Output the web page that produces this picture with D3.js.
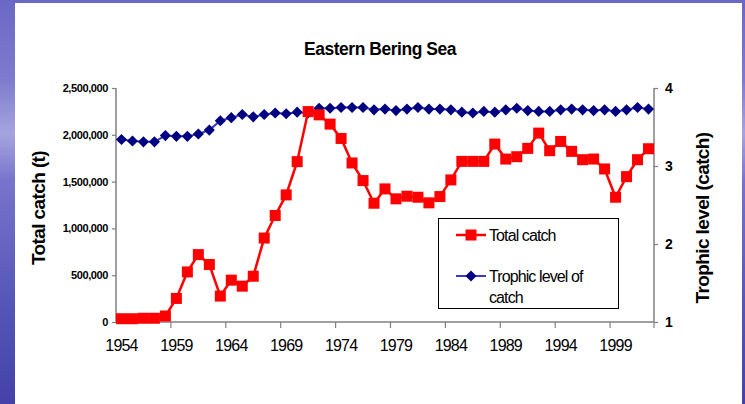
<!DOCTYPE html>
<html>
<head>
<meta charset="utf-8">
<script src="https://cdn.jsdelivr.net/npm/d3@7"></script>
<style>
  html, body { margin: 0; padding: 0; }
  body { width: 745px; height: 404px; overflow: hidden; }
  text { font-family: "Liberation Sans", Arial, sans-serif; }
</style>
</head>
<body>
<div id="chart"></div>
<script>
// data
var years = d3.range(1954, 2003);
var totalCatch = [
  35000, 35000, 40000, 40000, 64000, 252000, 535000, 720000, 614000, 277000,
  447000, 383000, 489000, 897000, 1138000, 1358000, 1713000, 2248000, 2213000, 2114000,
  1961000, 1699000, 1511000, 1269000, 1422000, 1316000, 1344000, 1333000, 1273000, 1340000,
  1518000, 1716000, 1716000, 1716000, 1901000, 1741000, 1766000, 1855000, 2018000, 1830000,
  1929000, 1823000, 1734000, 1741000, 1635000, 1333000, 1553000, 1734000, 1851000
];
var trophicLevel = [
  3.34, 3.32, 3.31, 3.31, 3.39, 3.38, 3.38, 3.41, 3.46, 3.58,
  3.62, 3.66, 3.63, 3.66, 3.68, 3.67, 3.69, 3.68, 3.74, 3.74,
  3.75, 3.75, 3.75, 3.72, 3.73, 3.71, 3.73, 3.75, 3.73, 3.73,
  3.72, 3.69, 3.68, 3.70, 3.69, 3.72, 3.74, 3.71, 3.70, 3.70,
  3.72, 3.73, 3.72, 3.71, 3.72, 3.70, 3.72, 3.75, 3.73
];
var xLabelYears = [1954, 1959, 1964, 1969, 1974, 1979, 1984, 1989, 1994, 1999];
var catchTicks = [0, 500000, 1000000, 1500000, 2000000, 2500000];
var trophicTicks = [1, 2, 3, 4];

var width = 745, height = 404;
var plotL = 116, plotR = 654, plotT = 88, plotB = 322;

var svg = d3.select("#chart").append("svg")
  .attr("width", width)
  .attr("height", height);

// slide background
var defs = svg.append("defs");
var grad = defs.append("linearGradient")
  .attr("id", "bg").attr("x1", 0).attr("y1", 0).attr("x2", 0).attr("y2", 1);
grad.append("stop").attr("offset", "0%").attr("stop-color", "#6a68c4");
grad.append("stop").attr("offset", "20%").attr("stop-color", "#7e7ccf");
grad.append("stop").attr("offset", "33%").attr("stop-color", "#a6a4de");
grad.append("stop").attr("offset", "45%").attr("stop-color", "#7674cb");
grad.append("stop").attr("offset", "75%").attr("stop-color", "#5656b8");
grad.append("stop").attr("offset", "100%").attr("stop-color", "#4442a8");
svg.append("rect").attr("width", width).attr("height", height).attr("fill", "url(#bg)");
svg.append("rect")
  .attr("x", 15).attr("y", 3)
  .attr("width", 742 - 15).attr("height", height - 3)
  .attr("fill", "#ffffff");

var x = d3.scaleBand().domain(years).range([plotL, plotR]).padding(0);
var yCatch = d3.scaleLinear().domain([0, 2500000]).range([plotB, plotT]);
var yTroph = d3.scaleLinear().domain([1, 4]).range([plotB, plotT]);

function cx(d, i) { return x(years[i]) + x.bandwidth() / 2; }

// title (the original font is a bit condensed)
svg.append("text")
  .attr("transform", "translate(380,55)scale(0.92,1)")
  .attr("text-anchor", "middle")
  .style("font-size", "19px").style("font-weight", "bold")
  .style("letter-spacing", "-0.5px")
  .text("Eastern Bering Sea");

// axes
var axisColor = "#808080";

var leftAxis = svg.append("g")
  .attr("transform", "translate(" + plotL + ",0)")
  .call(d3.axisLeft(yCatch).tickValues(catchTicks).tickFormat(d3.format(",")).tickSize(4).tickPadding(4));

var rightAxis = svg.append("g")
  .attr("transform", "translate(" + plotR + ",0)")
  .call(d3.axisRight(yTroph).tickValues(trophicTicks).tickFormat(d3.format("d")).tickSize(4).tickPadding(7));

var xAxis = svg.append("g")
  .attr("transform", "translate(0," + plotB + ")")
  .call(d3.axisBottom(x).tickValues(xLabelYears).tickSize(0).tickPadding(18));

[leftAxis, rightAxis, xAxis].forEach(function(g) {
  g.select(".domain").attr("stroke", axisColor).attr("stroke-width", 1.5);
  g.selectAll(".tick line").attr("stroke", axisColor).attr("stroke-width", 1.2);
  g.selectAll(".tick text").attr("fill", "#000");
});
leftAxis.select(".domain").attr("d", "M0," + plotT + "V" + plotB);
rightAxis.select(".domain").attr("d", "M0," + plotT + "V" + plotB);
leftAxis.selectAll(".tick text")
  .style("font-size", "11px").style("font-weight", "bold")
  .style("font-family", "'Liberation Sans', Arial, sans-serif")
  .style("letter-spacing", "-0.4px");
rightAxis.selectAll(".tick text")
  .style("font-size", "14px").style("font-weight", "bold")
  .style("font-family", "'Liberation Sans', Arial, sans-serif");
xAxis.selectAll(".tick text")
  .style("font-size", "16px")
  .style("font-family", "'Liberation Sans', Arial, sans-serif")
  .style("letter-spacing", "-0.8px");

// category separator ticks on the x axis, every 5 years
var sepYears = xLabelYears.slice(1).concat([2003]);
xAxis.selectAll(".sep")
  .data(sepYears)
  .enter().append("line")
  .attr("class", "sep")
  .attr("x1", function(d) { return d === 2003 ? plotR : x(d); })
  .attr("x2", function(d) { return d === 2003 ? plotR : x(d); })
  .attr("y1", 0).attr("y2", 6)
  .attr("stroke", axisColor).attr("stroke-width", 1.2);
xAxis.select(".domain").attr("d", "M" + plotL + ",0H" + plotR);

// axis titles
svg.append("text")
  .attr("transform", "translate(45,208)rotate(-90)")
  .attr("text-anchor", "middle")
  .style("font-size", "19px").style("font-weight", "bold")
  .style("letter-spacing", "-0.6px")
  .text("Total catch (t)");
svg.append("text")
  .attr("transform", "translate(709,218)rotate(-90)")
  .attr("text-anchor", "middle")
  .style("font-size", "19px").style("font-weight", "bold")
  .style("letter-spacing", "-0.6px")
  .text("Trophic level (catch)");

// trophic level series
var lineT = d3.line().x(cx).y(function(d) { return yTroph(d); });
svg.append("path")
  .datum(trophicLevel)
  .attr("d", lineT)
  .attr("fill", "none")
  .attr("stroke", "#3a3ac8")
  .attr("stroke-width", 2);
var diamond = d3.symbol().type(d3.symbolSquare).size(62);
svg.append("g").selectAll("path")
  .data(trophicLevel)
  .enter().append("path")
  .attr("d", diamond)
  .attr("transform", function(d, i) {
    return "translate(" + cx(d, i) + "," + yTroph(d) + ")rotate(45)";
  })
  .attr("fill", "#000080");

// total catch series
var lineC = d3.line().x(cx).y(function(d) { return yCatch(d); });
svg.append("path")
  .datum(totalCatch)
  .attr("d", lineC)
  .attr("fill", "none")
  .attr("stroke", "#ff0000")
  .attr("stroke-width", 2.5);
svg.append("g").selectAll("rect")
  .data(totalCatch)
  .enter().append("rect")
  .attr("x", function(d, i) { return cx(d, i) - 5.5; })
  .attr("y", function(d) { return yCatch(d) - 5.5; })
  .attr("width", 11).attr("height", 11)
  .attr("fill", "#ff0000");

// legend
var legend = svg.append("g");
legend.append("rect")
  .attr("x", 438.5).attr("y", 218.5)
  .attr("width", 180).attr("height", 90)
  .attr("fill", "#ffffff")
  .attr("stroke", "#000").attr("stroke-width", 1);
legend.append("line")
  .attr("x1", 456).attr("x2", 486).attr("y1", 235).attr("y2", 235)
  .attr("stroke", "#ff0000").attr("stroke-width", 2.5);
legend.append("rect")
  .attr("x", 465.5).attr("y", 229.5).attr("width", 11).attr("height", 11)
  .attr("fill", "#ff0000");
legend.append("line")
  .attr("x1", 456).attr("x2", 486).attr("y1", 276).attr("y2", 276)
  .attr("stroke", "#3a3ac8").attr("stroke-width", 2);
legend.append("path")
  .attr("d", diamond)
  .attr("transform", "translate(471,276)rotate(45)")
  .attr("fill", "#000080");
var legendText = [
  { t: "Total catch", y: 241 },
  { t: "Trophic level of", y: 282 },
  { t: "catch", y: 303 }
];
legend.selectAll("text")
  .data(legendText)
  .enter().append("text")
  .attr("x", 489).attr("y", function(d) { return d.y; })
  .style("font-size", "16px")
  .style("letter-spacing", "-0.9px")
  .text(function(d) { return d.t; });
</script>
</body>
</html>
